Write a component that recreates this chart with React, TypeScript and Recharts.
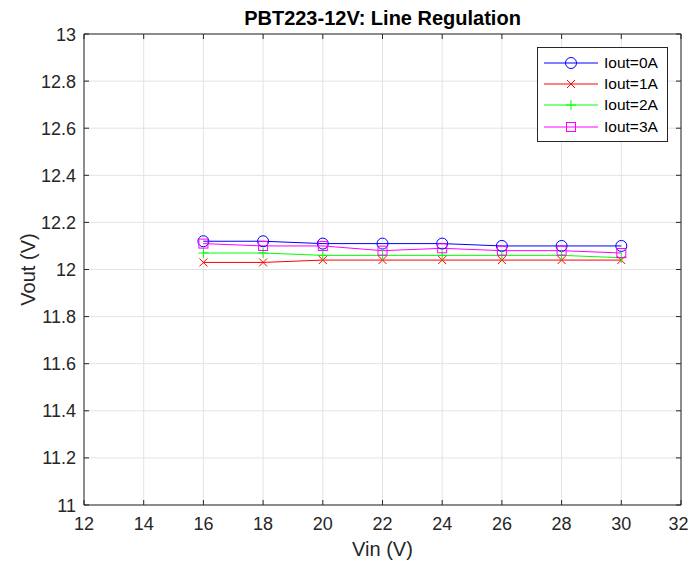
import { LineChart, Line, XAxis, YAxis, CartesianGrid, ReferenceArea } from 'recharts'

const vin = [16, 18, 20, 22, 24, 26, 28, 30]
const iout0 = [12.12, 12.12, 12.11, 12.11, 12.11, 12.1, 12.1, 12.1]
const iout1 = [12.03, 12.03, 12.04, 12.04, 12.04, 12.04, 12.04, 12.04]
const iout2 = [12.07, 12.07, 12.06, 12.06, 12.06, 12.06, 12.06, 12.05]
const iout3 = [12.11, 12.1, 12.1, 12.08, 12.09, 12.08, 12.08, 12.07]

const xTicks = [12, 14, 16, 18, 20, 22, 24, 26, 28, 30, 32]
const yTicks = [11, 11.2, 11.4, 11.6, 11.8, 12, 12.2, 12.4, 12.6, 12.8, 13]

const series = [
  { key: 'i0', name: 'Iout=0A', color: '#0000ff', marker: 'circle', values: iout0 },
  { key: 'i1', name: 'Iout=1A', color: '#ff0000', marker: 'x', values: iout1 },
  { key: 'i2', name: 'Iout=2A', color: '#00ff00', marker: 'plus', values: iout2 },
  { key: 'i3', name: 'Iout=3A', color: '#ff00ff', marker: 'square', values: iout3 },
]

const data = vin.map((v, i) => {
  const row: Record<string, number> = { vin: v }
  series.forEach((s) => (row[s.key] = s.values[i]))
  return row
})

const W = 689
const H = 563
const PLOT = { left: 84, top: 34, right: 681, bottom: 505 }
const FONT = '"Liberation Sans", Arial, Helvetica, sans-serif'
const AXIS = '#262626'

function Marker({ cx, cy, kind, color }: { cx: number; cy: number; kind: string; color: string }) {
  if (cx == null || cy == null) return null
  if (kind === 'circle') return <circle cx={cx} cy={cy} r={5.5} fill="none" stroke={color} strokeWidth={1} />
  if (kind === 'square') return <rect x={cx - 4.5} y={cy - 4.5} width={9} height={9} fill="none" stroke={color} strokeWidth={1} />
  if (kind === 'x')
    return (
      <g stroke={color} strokeWidth={1}>
        <line x1={cx - 4} y1={cy - 4} x2={cx + 4} y2={cy + 4} />
        <line x1={cx - 4} y1={cy + 4} x2={cx + 4} y2={cy - 4} />
      </g>
    )
  return (
    <g stroke={color} strokeWidth={1}>
      <line x1={cx - 5} y1={cy} x2={cx + 5} y2={cy} />
      <line x1={cx} y1={cy - 5} x2={cx} y2={cy + 5} />
    </g>
  )
}

const fmt = (v: number) => String(Number(v.toFixed(1)))

// bottom labels + inward ticks on bottom and top edges
function XTick(props: any) {
  const x = props.payload.coordinate
  // keep the last label inside the page
  const tx = Math.min(x, W - 10.5)
  return (
    <g>
      <line x1={x} x2={x} y1={PLOT.bottom} y2={PLOT.bottom - 5} stroke={AXIS} />
      <line x1={x} x2={x} y1={PLOT.top} y2={PLOT.top + 5} stroke={AXIS} />
      <text x={tx} y={PLOT.bottom + 25} textAnchor="middle" fontSize={18} fill={AXIS} fontFamily={FONT}>
        {fmt(props.payload.value)}
      </text>
    </g>
  )
}

// left labels + inward ticks on left and right edges
function YTick(props: any) {
  const y = props.payload.coordinate
  return (
    <g>
      <line x1={PLOT.left} x2={PLOT.left + 5} y1={y} y2={y} stroke={AXIS} />
      <line x1={PLOT.right} x2={PLOT.right - 5} y1={y} y2={y} stroke={AXIS} />
      <text x={PLOT.left - 8} y={y + 6.5} textAnchor="end" fontSize={18} fill={AXIS} fontFamily={FONT}>
        {fmt(props.payload.value)}
      </text>
    </g>
  )
}

function LegendBox() {
  return (
    <div
      style={{
        position: 'absolute',
        left: 537,
        top: 47,
        width: 129,
        border: '1px solid #262626',
        background: '#fff',
        padding: '4px 0',
        fontFamily: FONT,
        fontSize: 15.5,
        color: '#000',
      }}
    >
      {series.map((s) => (
        <div key={s.key} style={{ display: 'flex', alignItems: 'center', height: 21.3 }}>
          <svg width={62} height={14} style={{ marginLeft: 4 }}>
            <line x1={2} x2={56} y1={7} y2={7} stroke={s.color} />
            <Marker cx={29} cy={7} kind={s.marker} color={s.color} />
          </svg>
          <span>{s.name}</span>
        </div>
      ))}
    </div>
  )
}

export default function App() {
  return (
    <div style={{ position: 'absolute', left: 0, top: 0, width: W, height: H, background: '#fff' }}>
      <LineChart
        width={W}
        height={H}
        data={data}
        margin={{ top: PLOT.top, right: W - PLOT.right, bottom: H - PLOT.bottom - 30, left: PLOT.left - 40 }}
      >
        <CartesianGrid stroke="#e3e3e3" horizontalValues={yTicks} verticalValues={xTicks} />
        <XAxis
          dataKey="vin"
          type="number"
          domain={[12, 32]}
          ticks={xTicks}
          height={30}
          axisLine={false}
          tickLine={false}
          tickSize={0}
          tick={<XTick />}
          interval={0}
        />
        <YAxis
          type="number"
          domain={[11, 13]}
          ticks={yTicks}
          width={40}
          axisLine={false}
          tickLine={false}
          tickSize={0}
          tick={<YTick />}
          interval={0}
        />
        <ReferenceArea x1={12} x2={32} y1={11} y2={13} fill="none" stroke={AXIS} strokeWidth={1} />
        {series.map((s) => (
          <Line
            key={s.key}
            dataKey={s.key}
            name={s.name}
            stroke={s.color}
            strokeWidth={1}
            isAnimationActive={false}
            dot={(p: any) => <Marker key={`${s.key}-${p.index}`} cx={p.cx} cy={p.cy} kind={s.marker} color={s.color} />}
            activeDot={false}
          />
        ))}
        <text x={(PLOT.left + PLOT.right) / 2} y={25} textAnchor="middle" fontSize={20} fontWeight="bold" fill="#000" fontFamily={FONT}>
          PBT223-12V: Line Regulation
        </text>
        <text x={(PLOT.left + PLOT.right) / 2} y={556} textAnchor="middle" fontSize={20} fill={AXIS} fontFamily={FONT}>
          Vin (V)
        </text>
        <text
          x={35}
          y={(PLOT.top + PLOT.bottom) / 2}
          textAnchor="middle"
          fontSize={20}
          fill={AXIS}
          fontFamily={FONT}
          transform={`rotate(-90 35 ${(PLOT.top + PLOT.bottom) / 2})`}
        >
          Vout (V)
        </text>
      </LineChart>
      <LegendBox />
    </div>
  )
}
